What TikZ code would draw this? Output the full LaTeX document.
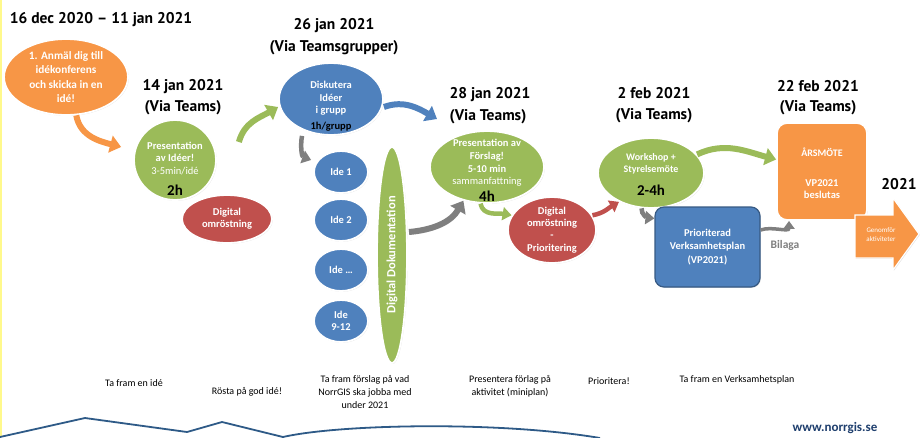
\documentclass[tikz,border=0pt]{standalone}
\usepackage{fontspec}
\setmainfont{Carlito}
\newfontfamily\hfont{PT Sans}
\usetikzlibrary{shapes.geometric,arrows.meta,shadows}
\definecolor{cOr}{HTML}{F79646}
\definecolor{cGr}{HTML}{9BBB59}
\definecolor{cBl}{HTML}{4F81BD}
\definecolor{cRd}{HTML}{C0504D}
\definecolor{cGy}{HTML}{7F7F7F}
\definecolor{cLine}{HTML}{2E5A87}
\definecolor{cWeb}{HTML}{1F3F6E}
\tikzset{
 shp/.style={draw=white, line width=1.8pt, inner sep=0pt,
   drop shadow={opacity=0.25, shadow xshift=0.8pt, shadow yshift=-0.8pt}},
 ell/.style={shp, ellipse},
 head/.style={font=\hfont\bfseries\fontsize{15.5}{17}\selectfont, inner sep=0pt},
 wt/.style={text=white, font=\bfseries\fontsize{10.5}{12.3}\selectfont, align=center, inner sep=0pt},
 big/.style={text=black, font=\bfseries\fontsize{15}{17}\selectfont, inner sep=0pt},
 barrow/.style={line width=6pt, -{Triangle[length=11pt,width=17pt]}},
 sarrow/.style={line width=4.5pt, -{Triangle[length=9pt,width=13pt]}},
 note/.style={font=\fontsize{10}{13}\selectfont, align=center, inner sep=0pt},
}
\begin{document}
\begin{tikzpicture}[x=1pt,y=1pt]
\useasboundingbox (0,0) rectangle (920,-437);
\fill[white] (0,0) rectangle (920,-437);
\draw[yellow!45, line width=1.5pt] (0.75,0) -- (0.75,-437);

% headings
\node[head] (t0) at (101,-20) {16 dec 2020 – 11 jan 2021};
\node[head] (t1a) at (183,-87) {14 jan 2021};
\node[head] (t1b) at (183,-108) {(Via Teams)};
\node[head] (t2a) at (334,-26) {26 jan 2021};
\node[head] (t2b) at (334,-48) {(Via Teamsgrupper)};
\node[head] (t3a) at (490,-95) {28 jan 2021};
\node[head] (t3b) at (488,-117) {(Via Teams)};
\node[head] (t4a) at (654,-93) {2 feb 2021};
\node[head] (t4b) at (654,-116) {(Via Teams)};
\node[head] (t5a) at (818,-86) {22 feb 2021};
\node[head] (t5b) at (818,-108) {(Via Teams)};
\node[head] (y21) at (899,-184) {2021};

% shapes
\node[ell, fill=cOr, minimum width=124pt, minimum height=76pt,
  label={[wt, font=\bfseries\fontsize{11.3}{14.5}\selectfont]center:{1. Anmäl dig till\\idékonferens\\och skicka in en\\idé!}}]
  (ora) at (66,-77) {};
\node[ell, fill=cGr, minimum width=82pt, minimum height=80pt,
  label={[wt, yshift=1.5pt]center:{Presentation\\av Idéer!\\{\mdseries 3-5min/idé}}},
  label={[big, yshift=-30pt]center:2h}]
  (g1) at (175,-160) {};
\node[ell, fill=cRd, minimum width=90pt, minimum height=48pt,
  label={[wt]center:{Digital\\omröstning}}]
  (r1) at (227,-219) {};
\node[ell, fill=cBl, minimum width=104pt, minimum height=72pt,
  label={[wt, yshift=0.5pt]center:{Diskutera\\Idéer\\i grupp}},
  label={[big, font=\bfseries\fontsize{10.5}{12}\selectfont, yshift=-28pt]center:1h/grupp}]
  (b1) at (331,-99) {};
\node[ell, fill=cBl, minimum width=54pt, minimum height=42pt, label={[wt]center:Ide 1}] (i1) at (341,-172) {};
\node[ell, fill=cBl, minimum width=54pt, minimum height=42pt, label={[wt]center:Ide 2}] (i2) at (341,-220) {};
\node[ell, fill=cBl, minimum width=54pt, minimum height=42pt, label={[wt]center:Ide …}] (i3) at (341,-270) {};
\node[ell, fill=cBl, minimum width=54pt, minimum height=42pt, label={[wt]center:{Ide\\9-12}}] (i4) at (341,-321) {};
\node[ell, fill=cGr, rotate=90, minimum width=216pt, minimum height=30pt,
  text=white, font=\bfseries\fontsize{12.5}{14}\selectfont]
  (dd) at (392,-255) {Digital Dokumentation};
\node[ell, fill=cGr, minimum width=114pt, minimum height=72pt,
  label={[wt, font=\bfseries\fontsize{10.5}{12.7}\selectfont, yshift=4pt]center:{Presentation av\\Förslag!\\5-10 min\\{\mdseries sammanfattning}}},
  label={[big, yshift=-29pt]center:4h}]
  (g3) at (487,-167) {};
\node[ell, fill=cRd, minimum width=88pt, minimum height=66pt,
  label={[wt, font=\bfseries\fontsize{10.5}{12.3}\selectfont]center:{Digital\\omröstning\\-\\Prioritering}}]
  (r2) at (552,-230) {};
\node[ell, fill=cGr, minimum width=106pt, minimum height=70pt,
  label={[wt, font=\bfseries\fontsize{10}{12}\selectfont, yshift=9pt]center:{Workshop +\\Styrelsemöte}},
  label={[big, yshift=-17pt]center:2-4h}]
  (g4) at (651,-173) {};
\node[shp, draw=cBl!70!black, line width=1.2pt, rounded corners=9pt, fill=cBl,
  minimum width=105pt, minimum height=80pt,
  label={[wt, font=\bfseries\fontsize{10.5}{13.5}\selectfont]center:{Prioriterad\\Verksamhetsplan\\(VP2021)}}]
  (vp) at (707.5,-247) {};
\node[shp, rounded corners=10pt, fill=cOr, minimum width=90pt, minimum height=97pt,
  label={[wt, font=\bfseries\fontsize{10}{11}\selectfont, yshift=19.5pt]center:ÅRSMÖTE},
  label={[wt, font=\bfseries\fontsize{10.5}{12.5}\selectfont, yshift=-17.5pt]center:{VP2021\\beslutas}}]
  (ob) at (822,-171.5) {};

% big arrow 2021
\fill[cOr, draw=white, line width=1.2pt, drop shadow={opacity=0.25, shadow xshift=0.8pt, shadow yshift=-0.8pt}]
  (855,-215) -- (893,-215) -- (893,-198) -- (919,-234) -- (893,-270) -- (893,-258) -- (855,-258) -- cycle;
\node[text=white, font=\fontsize{7}{9}\selectfont, align=center, inner sep=0pt] (gen) at (881,-235) {Genomför\\aktiviteter};

% connectors
\draw[barrow, cOr] (ora.-75) to[out=-80, in=165] ([shift={(-12,13)}]g1.west);
\draw[barrow, cGr] ([shift={(22,18)}]g1.east) to[out=75, in=210] ([yshift=-8pt]b1.west);
\draw[barrow, cBl] ([yshift=-8pt]b1.east) to[out=20, in=150] ([shift={(-50,48)}]g3.center);
\draw[sarrow, cGy] ([xshift=-29pt]b1.south) to[out=-100, in=160] ([shift={(-2,12)}]i1.west);
\draw[barrow, cGy] ([shift={(17,23)}]dd.center) to[out=5, in=-120] (g3.-125);
\draw[sarrow, cGr] (g3.-100) to[out=-80, in=170] (r2.160);
\draw[sarrow, cRd] (r2.20) to[out=10, in=-150] (g4.-138);
\draw[barrow, cGr] (g4.22) to[out=25, in=165] ([yshift=12pt]ob.west);
\draw[sarrow, cGy] (g4.-105) to[out=-95, in=175] ([yshift=-12pt]vp.north west);
\draw[line width=3.5pt, cGy, -{Triangle[length=8pt,width=11pt]}] ([yshift=17pt]vp.east) to[out=20, in=-90] ([xshift=-33pt]ob.south);
\node[text=cGy, font=\bfseries\fontsize{11.5}{13}\selectfont, inner sep=0pt] (bil) at (785,-245) {Bilaga};

% bottom notes
\node[note] (n1) at (134,-383) {Ta fram en idé};
\node[note] (n2) at (247,-392) {Rösta på god idé!};
\node[note] (n3) at (365,-392) {Ta fram förslag på vad\\NorrGIS ska jobba med\\under 2021};
\node[note] (n4) at (510,-386) {Presentera förlag på\\aktivitet (miniplan)};
\node[note] (n5) at (609,-381) {Prioritera!};
\node[note] (n6) at (737,-380) {Ta fram en Verksamhetsplan};
\node[text=cWeb, font=\bfseries\fontsize{13}{15}\selectfont, inner sep=0pt] (web) at (835,-428) {www.norrgis.se};

% mountain line
\draw[cLine, line width=1.8pt, line join=round] (0,-437) -- (85,-418) -- (187,-432) -- (222,-422) -- (283,-437)
  .. controls (340,-424) and (500,-421) .. (600,-438);
\end{tikzpicture}
\end{document}
